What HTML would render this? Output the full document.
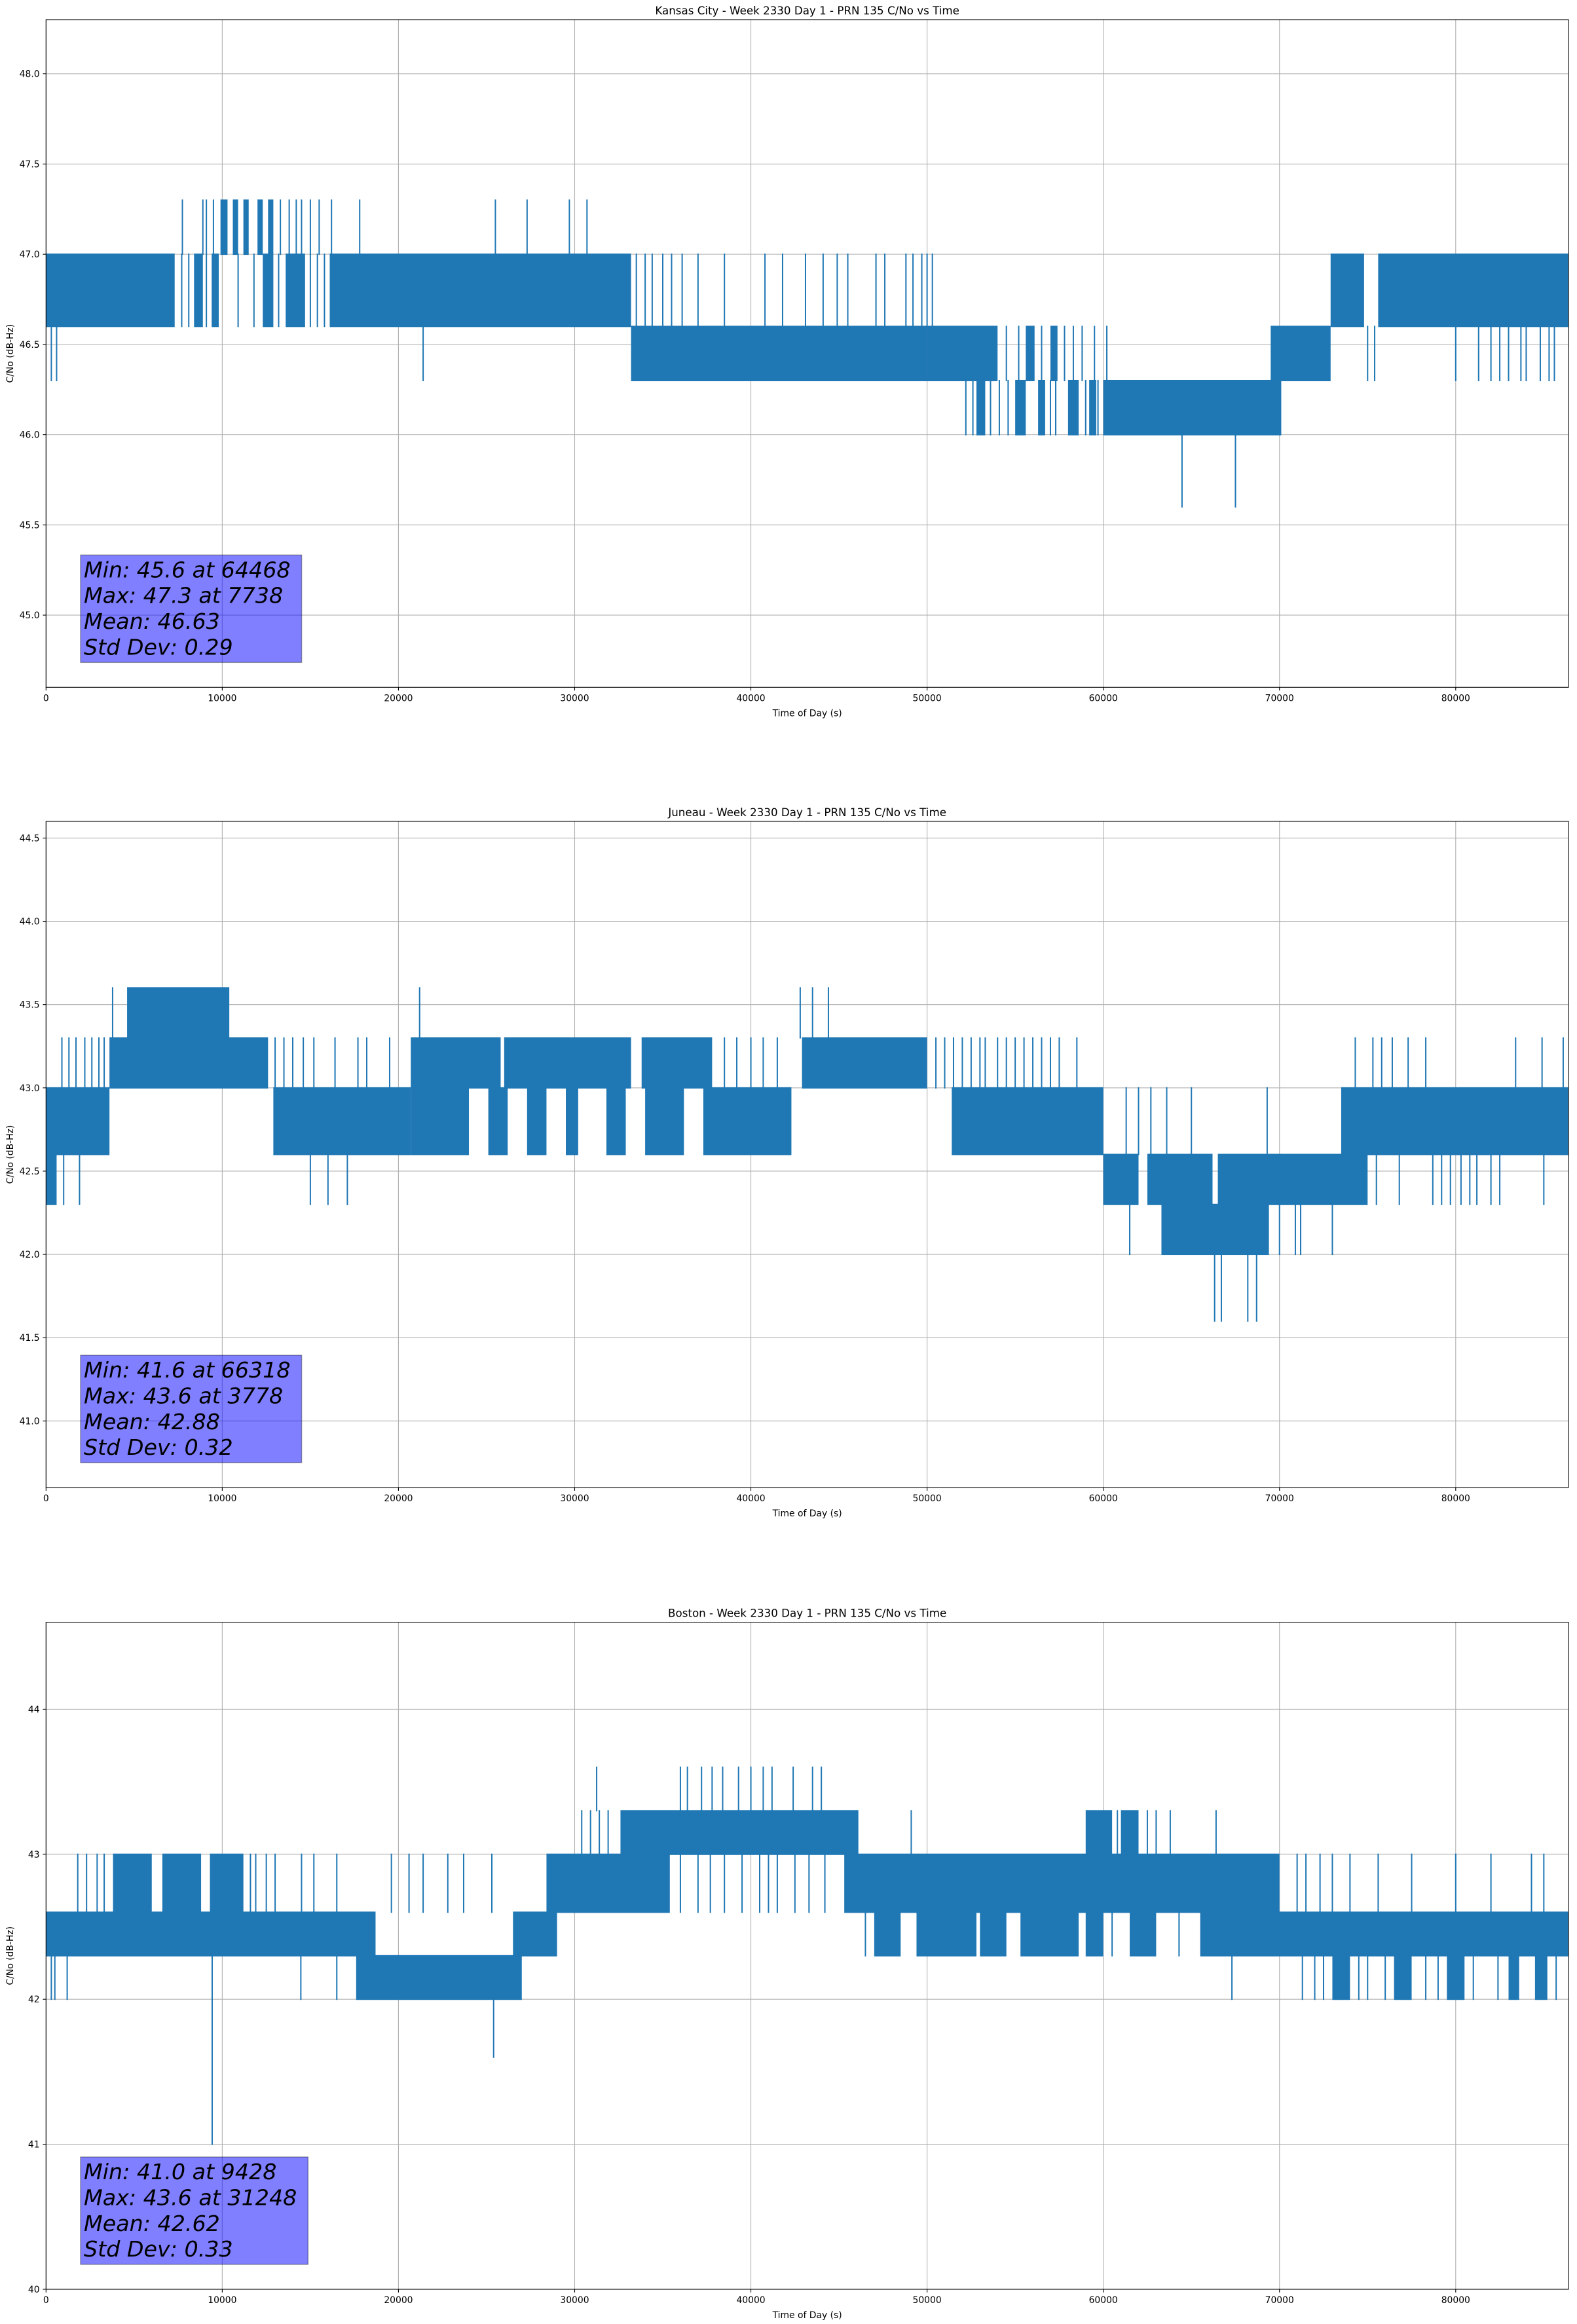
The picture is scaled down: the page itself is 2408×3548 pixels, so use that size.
<!DOCTYPE html>
<html><head><meta charset="utf-8"><style>
html,body{margin:0;padding:0;background:#fff;}
svg{display:block;font-family:"DejaVu Sans","Liberation Sans",sans-serif;}
</style></head>
<body>
<svg id="fig" width="2408" height="3548" viewBox="0 0 2408 3548" xmlns="http://www.w3.org/2000/svg"></svg>
<script>
// ---------- shared axis data ----------
const xTicks = [0,10000,20000,30000,40000,50000,60000,70000,80000];
const xMax = 86400;

// ---------- Kansas City ----------
const kcTitle = "Kansas City - Week 2330 Day 1 - PRN 135 C/No vs Time";
const kcYLim = [44.6, 48.3];
const kcYTicks = [45.0,45.5,46.0,46.5,47.0,47.5,48.0];
const kcStats = ["Min: 45.6 at 64468","Max: 47.3 at 7738","Mean: 46.63","Std Dev: 0.29"];
const kcBands = [
 [0,7300,46.6,47.0],[8400,8900,46.6,47.0],[9400,9800,46.6,47.0],[12300,12900,46.6,47.0],
 [13600,14700,46.6,47.0],[16100,33200,46.6,47.0],
 [9900,10300,47.0,47.3],[10600,10900,47.0,47.3],[11200,11500,47.0,47.3],[12000,12300,47.0,47.3],[12600,12900,47.0,47.3],
 [33200,50000,46.3,46.6],[50000,54000,46.3,46.6],[55600,56100,46.3,46.6],[57000,57400,46.3,46.6],
 [52800,53300,46.0,46.3],[55000,55600,46.0,46.3],[56300,56700,46.0,46.3],[58000,58600,46.0,46.3],[59200,59600,46.0,46.3],[60000,70100,46.0,46.3],
 [69500,72900,46.3,46.6],[72900,74800,46.6,47.0],[75600,86400,46.6,47.0]
];
const kcSpikes = [
 [7700,46.6,47.0],[8100,46.6,47.0],[9100,46.6,47.0],[10900,46.6,47.0],[11800,46.6,47.0],[13200,46.6,47.0],[15000,46.6,47.0],[15400,46.6,47.0],[15800,46.6,47.0],
 [7738,47.0,47.3],[8900,47.0,47.3],[9100,47.0,47.3],[9500,47.0,47.3],[13300,47.0,47.3],[13800,47.0,47.3],[14200,47.0,47.3],[14500,47.0,47.3],[15000,47.0,47.3],[15500,47.0,47.3],[16200,47.0,47.3],[17800,47.0,47.3],[25500,47.0,47.3],[27300,47.0,47.3],[29700,47.0,47.3],[30700,47.0,47.3],
 [300,46.3,46.6],[600,46.3,46.6],[21400,46.3,46.6],[75000,46.3,46.6],[75400,46.3,46.6],[80000,46.3,46.6],[81300,46.3,46.6],[82000,46.3,46.6],[82500,46.3,46.6],[83000,46.3,46.6],[83700,46.3,46.6],[84000,46.3,46.6],[84800,46.3,46.6],[85300,46.3,46.6],[85600,46.3,46.6],
 [33500,46.6,47.0],[34000,46.6,47.0],[34400,46.6,47.0],[35000,46.6,47.0],[35500,46.6,47.0],[36100,46.6,47.0],[37000,46.6,47.0],[38500,46.6,47.0],[40800,46.6,47.0],[41800,46.6,47.0],[43100,46.6,47.0],[44100,46.6,47.0],[44900,46.6,47.0],[45500,46.6,47.0],[47100,46.6,47.0],[47600,46.6,47.0],[48800,46.6,47.0],[49200,46.6,47.0],[49700,46.6,47.0],[50000,46.6,47.0],[50300,46.6,47.0],
 [54500,46.3,46.6],[55200,46.3,46.6],[56500,46.3,46.6],[57800,46.3,46.6],[58300,46.3,46.6],[58800,46.3,46.6],[59500,46.3,46.6],[60200,46.3,46.6],
 [52200,46.0,46.3],[52600,46.0,46.3],[53600,46.0,46.3],[54100,46.0,46.3],[54600,46.0,46.3],[57000,46.0,46.3],[57300,46.0,46.3],[59000,46.0,46.3],[59700,46.0,46.3],
 [64468,45.6,46.0],[67500,45.6,46.0]
];

// ---------- Juneau ----------
const juTitle = "Juneau - Week 2330 Day 1 - PRN 135 C/No vs Time";
const juYLim = [40.6, 44.6];
const juYTicks = [41.0,41.5,42.0,42.5,43.0,43.5,44.0,44.5];
const juStats = ["Min: 41.6 at 66318","Max: 43.6 at 3778","Mean: 42.88","Std Dev: 0.32"];
const juBands = [
 [0,600,42.3,42.6],[0,3600,42.6,43.0],[3600,12600,43.0,43.3],[4600,10400,43.3,43.6],
 [12900,20700,42.6,43.0],[20700,25800,43.0,43.3],[26000,33200,43.0,43.3],[33800,37800,43.0,43.3],
 [20700,24000,42.6,43.0],[25100,26200,42.6,43.0],[27300,28400,42.6,43.0],[29500,30200,42.6,43.0],[31800,32900,42.6,43.0],[34000,36200,42.6,43.0],[37300,42300,42.6,43.0],
 [42900,50000,43.0,43.3],[51400,60000,42.6,43.0],
 [60000,62000,42.3,42.6],[62500,66200,42.3,42.6],[66500,75000,42.3,42.6],
 [63300,69400,42.0,42.3],[73500,86400,42.6,43.0]
];
const juSpikes = [
 [1000,42.3,42.6],[1900,42.3,42.6],[15000,42.3,42.6],[16000,42.3,42.6],[17100,42.3,42.6],[75500,42.3,42.6],[76800,42.3,42.6],[78700,42.3,42.6],[79200,42.3,42.6],[79700,42.3,42.6],[80300,42.3,42.6],[80800,42.3,42.6],[81200,42.3,42.6],[82000,42.3,42.6],[82500,42.3,42.6],[85000,42.3,42.6],
 [900,43.0,43.3],[1300,43.0,43.3],[1700,43.0,43.3],[2200,43.0,43.3],[2600,43.0,43.3],[3000,43.0,43.3],[3300,43.0,43.3],[13000,43.0,43.3],[13500,43.0,43.3],[14000,43.0,43.3],[14600,43.0,43.3],[15200,43.0,43.3],[16400,43.0,43.3],[17700,43.0,43.3],[18200,43.0,43.3],[19500,43.0,43.3],[38500,43.0,43.3],[39200,43.0,43.3],[40000,43.0,43.3],[40700,43.0,43.3],[41500,43.0,43.3],[50500,43.0,43.3],[51000,43.0,43.3],[51500,43.0,43.3],[52000,43.0,43.3],[52500,43.0,43.3],[53000,43.0,43.3],[53300,43.0,43.3],[54000,43.0,43.3],[54500,43.0,43.3],[55000,43.0,43.3],[55500,43.0,43.3],[56000,43.0,43.3],[56500,43.0,43.3],[57000,43.0,43.3],[57500,43.0,43.3],[58500,43.0,43.3],[74300,43.0,43.3],[75300,43.0,43.3],[75800,43.0,43.3],[76400,43.0,43.3],[77300,43.0,43.3],[78300,43.0,43.3],[83400,43.0,43.3],[84900,43.0,43.3],[86100,43.0,43.3],
 [3778,43.3,43.6],[21200,43.3,43.6],[42800,43.3,43.6],[43500,43.3,43.6],[44400,43.3,43.6],
 [61300,42.6,43.0],[62000,42.6,43.0],[62700,42.6,43.0],[63600,42.6,43.0],[65000,42.6,43.0],[69300,42.6,43.0],
 [61500,42.0,42.3],[70000,42.0,42.3],[70900,42.0,42.3],[71200,42.0,42.3],[73000,42.0,42.3],
 [66318,41.6,42.0],[66700,41.6,42.0],[68200,41.6,42.0],[68700,41.6,42.0]
];

// ---------- Boston ----------
const boTitle = "Boston - Week 2330 Day 1 - PRN 135 C/No vs Time";
const boYLim = [40.0, 44.6];
const boYTicks = [40,41,42,43,44];
const boStats = ["Min: 41.0 at 9428","Max: 43.6 at 31248","Mean: 42.62","Std Dev: 0.33"];
const boBands = [
 [0,18700,42.3,42.6],[17600,27000,42.0,42.3],[26500,29000,42.3,42.6],
 [3800,6000,42.6,43.0],[6600,8800,42.6,43.0],[9300,11200,42.6,43.0],
 [28400,35400,42.6,43.0],[32600,46100,43.0,43.3],[45300,70000,42.6,43.0],
 [65500,86400,42.3,42.6],[47000,48500,42.3,42.6],[49400,52800,42.3,42.6],[53000,54500,42.3,42.6],[55300,58600,42.3,42.6],[59000,60000,42.3,42.6],[61500,63000,42.3,42.6],
 [59000,60500,43.0,43.3],[61000,62000,43.0,43.3],
 [73000,74000,42.0,42.3],[76500,77500,42.0,42.3],[79500,80500,42.0,42.3],[83000,83600,42.0,42.3],[84500,85200,42.0,42.3]
];
const boSpikes = [
 [300,42.0,42.3],[500,42.0,42.3],[1200,42.0,42.3],[14460,42.0,42.3],[16500,42.0,42.3],[67300,42.0,42.3],[71300,42.0,42.3],[72000,42.0,42.3],[72500,42.0,42.3],[74500,42.0,42.3],[75000,42.0,42.3],[76000,42.0,42.3],[78300,42.0,42.3],[79000,42.0,42.3],[81000,42.0,42.3],[82400,42.0,42.3],[85700,42.0,42.3],
 [1800,42.6,43.0],[2300,42.6,43.0],[2900,42.6,43.0],[3300,42.6,43.0],[11600,42.6,43.0],[11900,42.6,43.0],[12500,42.6,43.0],[13000,42.6,43.0],[14500,42.6,43.0],[15200,42.6,43.0],[16500,42.6,43.0],[19600,42.6,43.0],[20600,42.6,43.0],[21400,42.6,43.0],[22800,42.6,43.0],[23700,42.6,43.0],[25300,42.6,43.0],[36000,42.6,43.0],[37000,42.6,43.0],[37700,42.6,43.0],[38500,42.6,43.0],[39500,42.6,43.0],[40500,42.6,43.0],[41000,42.6,43.0],[41500,42.6,43.0],[42500,42.6,43.0],[43300,42.6,43.0],[44200,42.6,43.0],[71000,42.6,43.0],[71500,42.6,43.0],[72300,42.6,43.0],[73000,42.6,43.0],[74000,42.6,43.0],[75600,42.6,43.0],[77500,42.6,43.0],[80000,42.6,43.0],[82000,42.6,43.0],[84300,42.6,43.0],[85000,42.6,43.0],
 [30400,43.0,43.3],[30900,43.0,43.3],[31400,43.0,43.3],[31900,43.0,43.3],[49100,43.0,43.3],[60800,43.0,43.3],[62500,43.0,43.3],[63000,43.0,43.3],[63800,43.0,43.3],[66400,43.0,43.3],
 [31248,43.3,43.6],[36000,43.3,43.6],[36400,43.3,43.6],[37200,43.3,43.6],[37800,43.3,43.6],[38400,43.3,43.6],[39300,43.3,43.6],[40000,43.3,43.6],[40700,43.3,43.6],[41200,43.3,43.6],[42400,43.3,43.6],[43500,43.3,43.6],[44000,43.3,43.6],
 [46500,42.3,42.6],[60500,42.3,42.6],[64300,42.3,42.6],
 [9428,41.0,42.3],[25400,41.6,42.0]
];

// ---------- layout ----------
const NS = "http://www.w3.org/2000/svg";
const svg = document.getElementById("fig");
const X0 = 70.3, X1 = 2395;
function mk(tag, attrs, parent){
  const e = document.createElementNS(NS, tag);
  for (const k in attrs) e.setAttribute(k, attrs[k]);
  (parent||svg).appendChild(e);
  return e;
}
function drawPanel(key, top, bottom, title, ylim, yticks, bands, spikes, stats, decimals){
  const g = mk("g", {});
  
  
  const sx = t => X0 + (t / xMax) * (X1 - X0);
  const sy = v => bottom - (v - ylim[0]) / (ylim[1] - ylim[0]) * (bottom - top);
  const grid = mk("g", {stroke:"#b0b0b0","stroke-width":"1.1"}, g);
  
  
  xTicks.forEach(t => mk("line", {x1:sx(t),x2:sx(t),y1:top,y2:bottom}, grid));
  yticks.forEach(v => mk("line", {x1:X0,x2:X1,y1:sy(v),y2:sy(v)}, grid));
  const series = mk("g", {fill:"#1f77b4"}, g);
  
  
  bands.forEach(b => {
    const r = mk("rect", {x:sx(b[0]), y:sy(b[3])-1, width:Math.max(2, sx(b[1])-sx(b[0])), height:sy(b[2])-sy(b[3])+2}, series);
    
    
  });
  spikes.forEach(s => {
    const r = mk("rect", {x:sx(s[0])-1, y:sy(s[2])-1, width:2, height:sy(s[1])-sy(s[2])+2}, series);
    
    
  });
  const frame = mk("rect", {x:X0,y:top,width:X1-X0,height:bottom-top,fill:"none",stroke:"#000","stroke-width":"1.1"}, g);
  
  
  const tk = mk("g", {"font-size":"13.9",fill:"#000"}, g);
  
  
  xTicks.forEach(t => {
    mk("line", {x1:sx(t),x2:sx(t),y1:bottom,y2:bottom+4.9,stroke:"#000","stroke-width":"1.1"}, tk);
    const tx = mk("text", {x:sx(t), y:bottom+21, "text-anchor":"middle"}, tk);
    tx.textContent = String(t);
    
    
  });
  yticks.forEach(v => {
    mk("line", {x1:X0-4.9,x2:X0,y1:sy(v),y2:sy(v),stroke:"#000","stroke-width":"1.1"}, tk);
    const ty = mk("text", {x:X0-9.7, y:sy(v)+5, "text-anchor":"end"}, tk);
    ty.textContent = v.toFixed(decimals);
    
    
  });
  const tt = mk("text", {x:(X0+X1)/2, y:top-8, "text-anchor":"middle","font-size":"16.7"}, g);
  tt.textContent = title;
  
  
  const xl = mk("text", {x:(X0+X1)/2, y:bottom+44, "text-anchor":"middle","font-size":"13.9"}, g);
  xl.textContent = "Time of Day (s)";
  
  
  const cy = (top+bottom)/2;
  const yl = mk("text", {x:20, y:cy, "text-anchor":"middle","font-size":"13.9",transform:"rotate(-90 20 "+cy+")"}, g);
  yl.textContent = "C/No (dB-Hz)";
  
  
  const sg = mk("g", {}, g);
  
  
  const bBot = bottom - 38, bTop = bBot - 164;
  const box = mk("rect", {x:123, y:bTop, width:340, height:164, fill:"rgba(0,0,255,0.5)", stroke:"rgba(0,0,0,0.35)","stroke-width":"1.5"}, sg);
  let maxW = 0;
  stats.forEach((s,i) => {
    const t = mk("text", {x:128, y:bTop+34+i*39.4, "font-size":"33.3","font-style":"italic",fill:"#000"}, sg);
    t.textContent = s;
    
    
    try { maxW = Math.max(maxW, t.getComputedTextLength()); } catch(e){}
  });
  if (maxW > 0) box.setAttribute("width", maxW + 22);
}
drawPanel("kansas-city", 30, 1049.3, kcTitle, kcYLim, kcYTicks, kcBands, kcSpikes, kcStats, 1);
drawPanel("juneau", 1254, 2271, juTitle, juYLim, juYTicks, juBands, juSpikes, juStats, 1);
drawPanel("boston", 2476.6, 3495, boTitle, boYLim, boYTicks, boBands, boSpikes, boStats, 0);
</script>
</body></html>
